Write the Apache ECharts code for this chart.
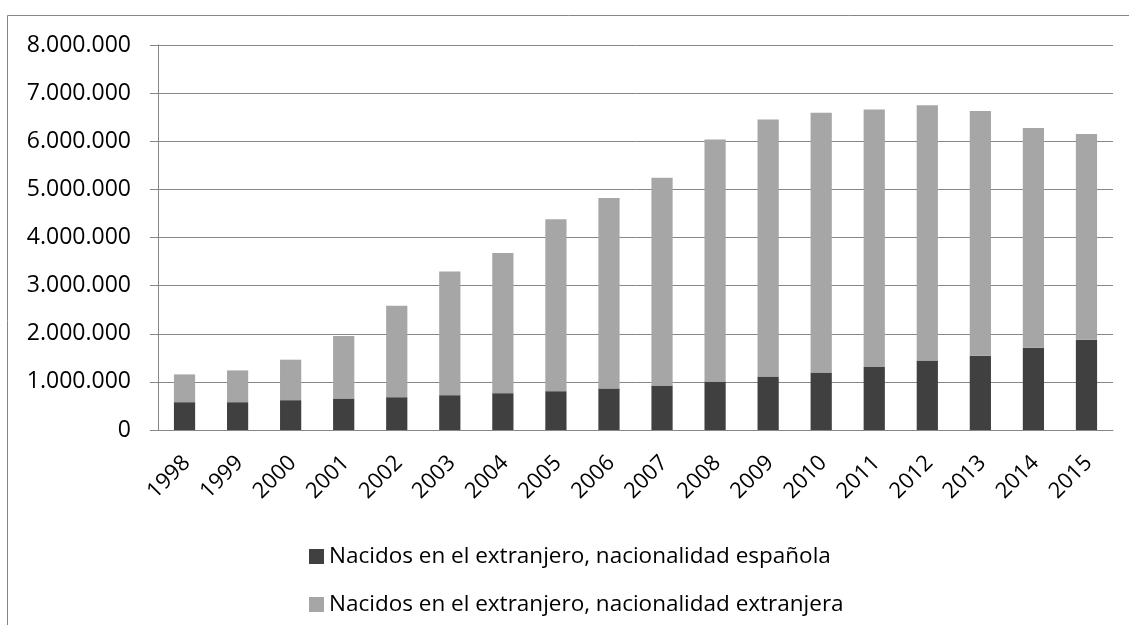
<!DOCTYPE html>
<html>
<head>
<meta charset="utf-8">
<script src="https://cdn.jsdelivr.net/npm/echarts@6/dist/echarts.min.js"></script>
<style>
  html, body { margin: 0; padding: 0; background: #fff; }
  #main { width: 1129px; height: 625px; }
</style>
</head>
<body>
<div id="main"></div>
<script>
var years = ['1998', '1999', '2000', '2001', '2002', '2003', '2004', '2005', '2006',
             '2007', '2008', '2009', '2010', '2011', '2012', '2013', '2014', '2015'];
// nacidos en el extranjero, nacionalidad española
var espanola = [578000, 578000, 620000, 655000, 682000, 724000, 766000, 807000, 864000,
                926000, 1009000, 1113000, 1196000, 1307000, 1446000, 1544000, 1710000, 1877000];
// nacidos en el extranjero, nacionalidad extranjera
var extranjera = [577000, 660000, 841000, 1297000, 1902000, 2568000, 2913000, 3573000, 3959000,
                  4313000, 5029000, 5341000, 5396000, 5355000, 5300000, 5083000, 4563000, 4272000];
var yTicks = { min: 0, max: 8000000, interval: 1000000 };

var myChart = echarts.init(document.getElementById('main'));
var font = '"Open Sans", "Noto Sans", sans-serif';

function miles(v) {
    return String(v).replace(/\B(?=(\d{3})+(?!\d))/g, '.');
}

myChart.setOption({
    animation: false,
    textStyle: { fontFamily: font },
    graphic: [{
        type: 'rect',
        shape: { x: 7.5, y: 15.5, width: 1200, height: 700 },
        style: { fill: 'none', stroke: '#868686', lineWidth: 1 }
    }],
    grid: { left: 158, right: 16, top: 45, bottom: 195 },
    legend: {
        orient: 'vertical',
        left: 304,
        top: 540,
        itemWidth: 15,
        itemHeight: 15,
        itemGap: 25,
        icon: 'rect',
        textStyle: { fontSize: 22.5, color: '#000', fontFamily: font, lineHeight: 23 },
        data: ['Nacidos en el extranjero, nacionalidad española',
               'Nacidos en el extranjero, nacionalidad extranjera']
    },
    xAxis: {
        type: 'category',
        data: years,
        axisLine: { lineStyle: { color: '#868686', width: 1 } },
        axisTick: { length: 7, lineStyle: { color: '#868686' } },
        axisLabel: {
            rotate: 45, fontSize: 22, color: '#000', margin: 16,
            verticalAlign: 'top', padding: [0, 8, 0, 0]
        }
    },
    yAxis: {
        type: 'value',
        min: yTicks.min,
        max: yTicks.max,
        interval: yTicks.interval,
        axisLine: { show: true, lineStyle: { color: '#868686' } },
        axisTick: { show: true, length: 8, lineStyle: { color: '#868686' } },
        axisLabel: { fontSize: 23, color: '#000', margin: 27, formatter: miles },
        splitLine: { lineStyle: { color: '#868686', width: 1 } }
    },
    series: [{
        name: 'Nacidos en el extranjero, nacionalidad española',
        type: 'bar',
        stack: 'total',
        barWidth: '40%',
        itemStyle: { color: '#404040' },
        data: espanola
    }, {
        name: 'Nacidos en el extranjero, nacionalidad extranjera',
        type: 'bar',
        stack: 'total',
        barWidth: '40%',
        itemStyle: { color: '#a6a6a6' },
        data: extranjera
    }]
});
</script>
</body>
</html>
